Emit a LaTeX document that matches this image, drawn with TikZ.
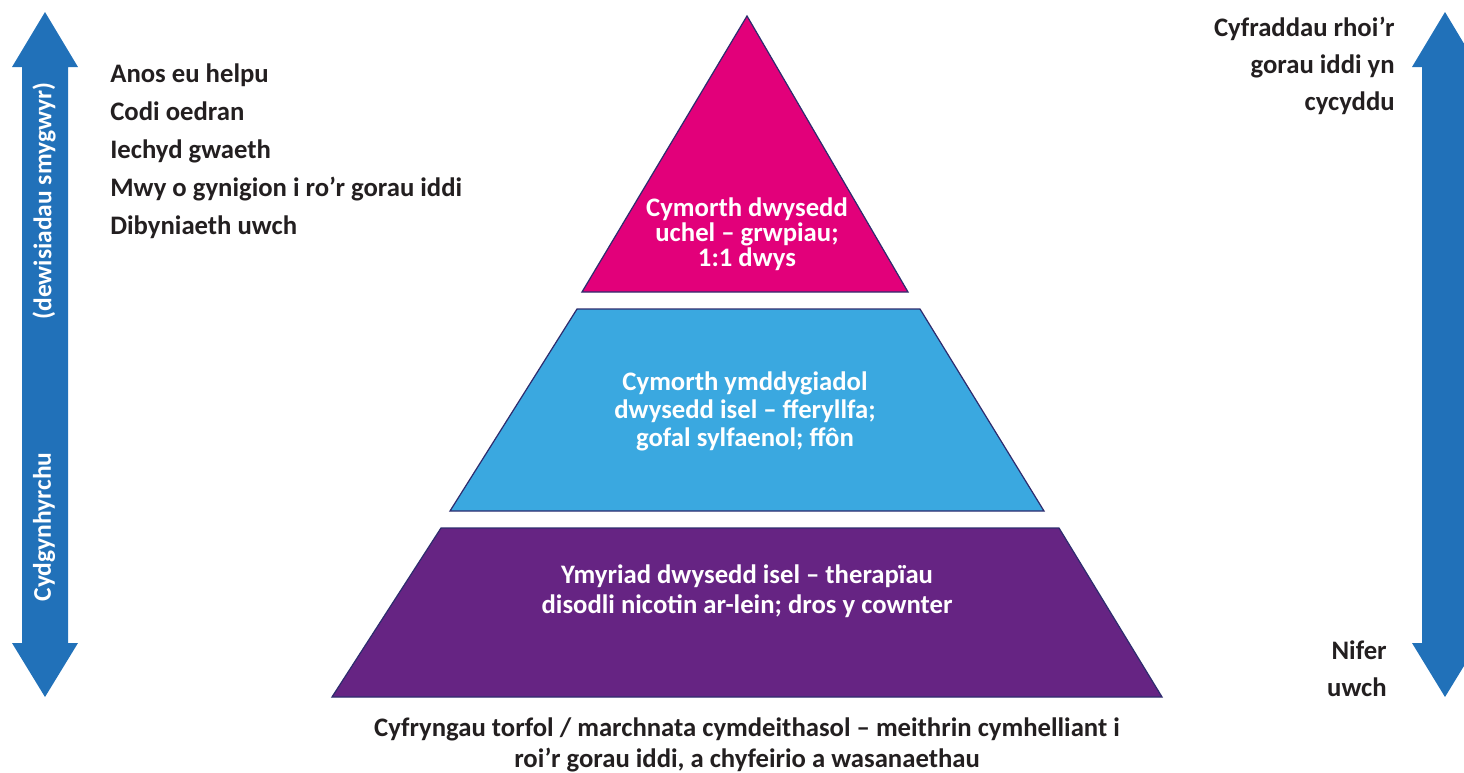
\documentclass[tikz,border=0pt]{standalone}
\usepackage{fontspec}
\setmainfont{Carlito}
\usepackage{xcolor}
\usetikzlibrary{positioning}

\definecolor{arrowblue}{HTML}{2171B9}
\definecolor{tierpink}{HTML}{E2007A}
\definecolor{tierblue}{HTML}{3AA8E0}
\definecolor{tierpurple}{HTML}{662483}
\definecolor{tierline}{HTML}{2E2C6E}
\definecolor{inkgrey}{HTML}{231F20}

\begin{document}
\begin{tikzpicture}[
    x=0.02cm,y=-0.02cm,
    lbl/.style={font=\bfseries\fontsize{15.2pt}{#1}\selectfont, text=inkgrey,
                inner sep=0pt, align=center},
    wlbl/.style={lbl=#1, text=white},
    side/.style={font=\bfseries\fontsize{14.5pt}{16pt}\selectfont, text=white,
                 inner sep=0pt, rotate=90},
    tier/.style={draw=tierline, line width=0.7pt, line join=miter},
    arr/.style={fill=arrowblue}
]
\useasboundingbox (0,0) rectangle (1464,772);

% Two-way arrows on both sides
\fill[arr] (45,12) -- (78,67) -- (68,67) -- (68,643) -- (78,643) -- (45,697)
    -- (12,643) -- (22,643) -- (22,67) -- (12,67) -- cycle;
\fill[arr] (1445,12) -- (1478,67) -- (1468,67) -- (1468,643) -- (1478,643) -- (1445,697)
    -- (1412,643) -- (1422,643) -- (1422,67) -- (1412,67) -- cycle;

% Pyramid tiers
\filldraw[tier, fill=tierpink] (747,16) -- (908,292) -- (582,292) -- cycle;
\filldraw[tier, fill=tierblue] (577,309) -- (920,309) -- (1044,511) -- (450,511) -- cycle;
\filldraw[tier, fill=tierpurple] (441,528) -- (1059,528) -- (1162,697) -- (332,697) -- cycle;

% Tier labels
\node[wlbl=11.8pt] (high) at (747,234) {Cymorth dwysedd\\uchel -- grwpiau;\\1:1 dwys};
\node[wlbl=16pt] (mid) at (745,411) {Cymorth ymddygiadol\\dwysedd isel -- fferyllfa;\\gofal sylfaenol; ffôn};
\node[wlbl=17pt] (low) at (747,591) {Ymyriad dwysedd isel -- therapïau\\disodli nicotin ar-lein; dros y cownter};
\node[lbl=18pt] (media) at (747,745) {Cyfryngau torfol / marchnata cymdeithasol -- meithrin cymhelliant i\\roi’r gorau iddi, a chyfeirio a wasanaethau};

% Side labels
\node[lbl=21.6pt, align=left, anchor=west] (traits) at (110,151)
    {Anos eu helpu\\Codi oedran\\Iechyd gwaeth\\Mwy o gynigion i ro’r gorau iddi\\Dibyniaeth uwch};
\node[lbl=21pt, align=right, anchor=east] (rates) at (1395,66)
    {Cyfraddau rhoi’r\\gorau iddi yn\\cycyddu};
\node[lbl=21pt, align=right, anchor=east] (count) at (1387,669) {Nifer\\uwch};

% Labels inside the left arrow
\node[side] (choice) at (44,201) {(dewisiadau smygwyr)};
\node[side] (coprod) at (44,527) {Cydgynhyrchu};
\end{tikzpicture}
\end{document}
